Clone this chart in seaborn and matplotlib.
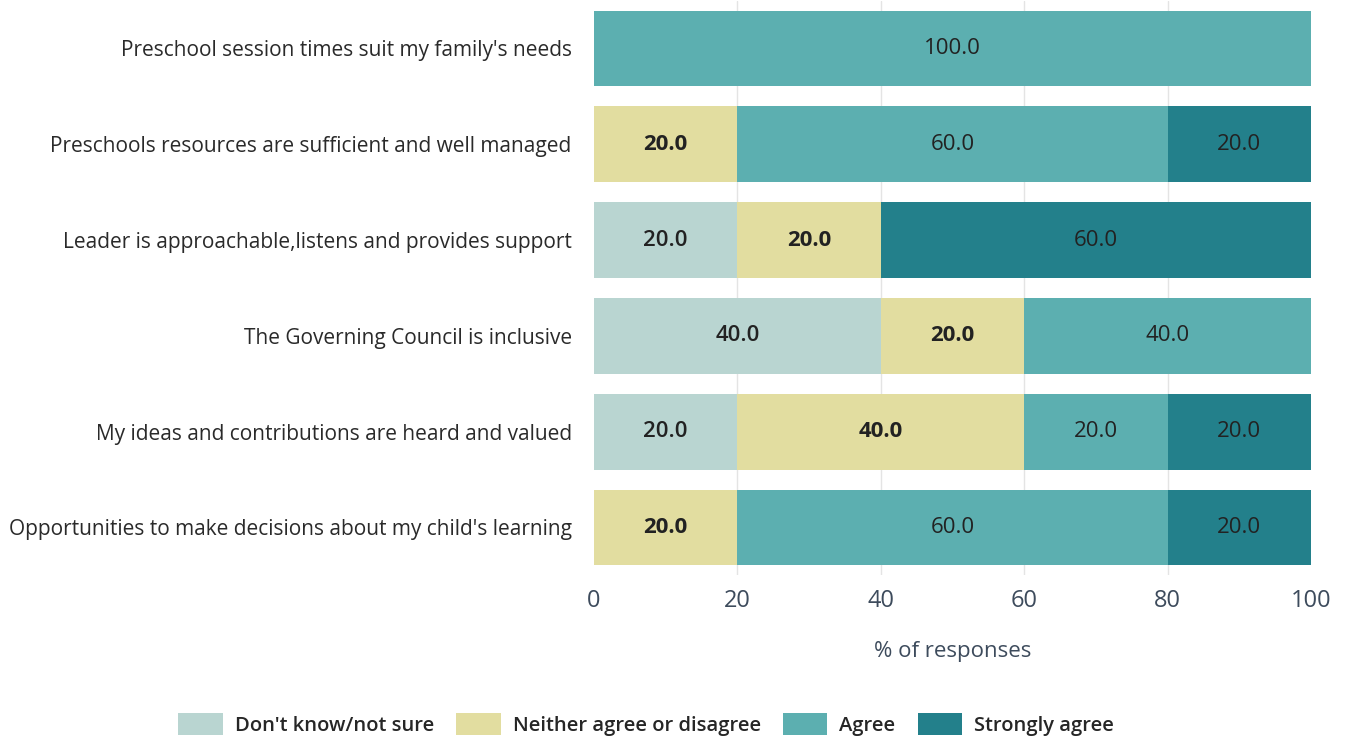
import numpy as np
import pandas as pd
import matplotlib
matplotlib.use("Agg")
import matplotlib.pyplot as plt
import seaborn as sns
from matplotlib.patches import Patch

statements = [
    "Preschool session times suit my family's needs",
    "Preschools resources are sufficient and well managed",
    "Leader is approachable,listens and provides support",
    "The Governing Council is inclusive",
    "My ideas and contributions are heard and valued",
    "Opportunities to make decisions about my child's learning",
]
categories = ["Don't know/not sure", "Neither agree or disagree", "Agree", "Strongly agree"]
dont_know = [0, 0, 20, 40, 20, 0]
neither = [0, 20, 20, 20, 40, 20]
agree = [100, 60, 0, 40, 20, 60]
strongly = [0, 20, 60, 0, 20, 20]
ticks = [0, 20, 40, 60, 80, 100]

colors = ["#b9d5d1", "#e2dda0", "#5cafb0", "#23808b"]
label_weights = ["semibold", "bold", "medium", "medium"]

sns.set_theme(style="white")
plt.rcParams["font.family"] = ["Open Sans", "DejaVu Sans"]

series = [dont_know, neither, agree, strongly]
cum = np.cumsum(np.array(series), axis=0)

fig = plt.figure(figsize=(13.49, 7.39), dpi=100)
ax = fig.add_axes([0.4403, 0.2214, 0.5315, 0.7778])

# vertical grid behind the bars
for t in ticks[1:-1]:
    ax.axvline(t, color="#e4e4e4", lw=1, zorder=0)

# stacked bars: draw cumulative totals from back to front
for i in range(len(categories) - 1, -1, -1):
    df = pd.DataFrame({"statement": statements, "value": cum[i]})
    sns.barplot(data=df, x="value", y="statement", orient="h", color=colors[i],
                width=0.79, saturation=1, ax=ax, zorder=2, linewidth=0)

# value labels centred in each segment
starts = cum - np.array(series)
for i in range(len(categories)):
    for j, v in enumerate(series[i]):
        if v > 0:
            ax.text(starts[i][j] + v / 2, j, f"{v:.1f}", ha="center", va="center",
                    fontsize=16, color="#222222", fontweight=label_weights[i], zorder=3)

ax.set_xlim(0, 100)
ax.set_ylim(5.5, -0.5)
ax.set_xticks(ticks)
ax.set_xticklabels([str(t) for t in ticks], fontsize=17, color="#3d4b5c")
ax.tick_params(axis="x", length=0, pad=10)
ax.tick_params(axis="y", length=0, pad=16)
ax.set_yticklabels(statements, fontsize=15, color="#2a2a2a")
ax.set_ylabel("")
ax.set_xlabel("% of responses", fontsize=16, color="#3d4b5c", labelpad=20)
for s in ax.spines.values():
    s.set_visible(False)

handles = [Patch(facecolor=c, edgecolor="none") for c in colors]
fig.legend(handles, categories, loc="center", bbox_to_anchor=(0.479, 0.02), ncol=4,
           frameon=False, prop={"size": 14.5, "weight": "semibold"},
           handlelength=2.2, handleheight=1.3, columnspacing=1.1, handletextpad=0.6)

fig.savefig("out.png", dpi=100, facecolor="white")
